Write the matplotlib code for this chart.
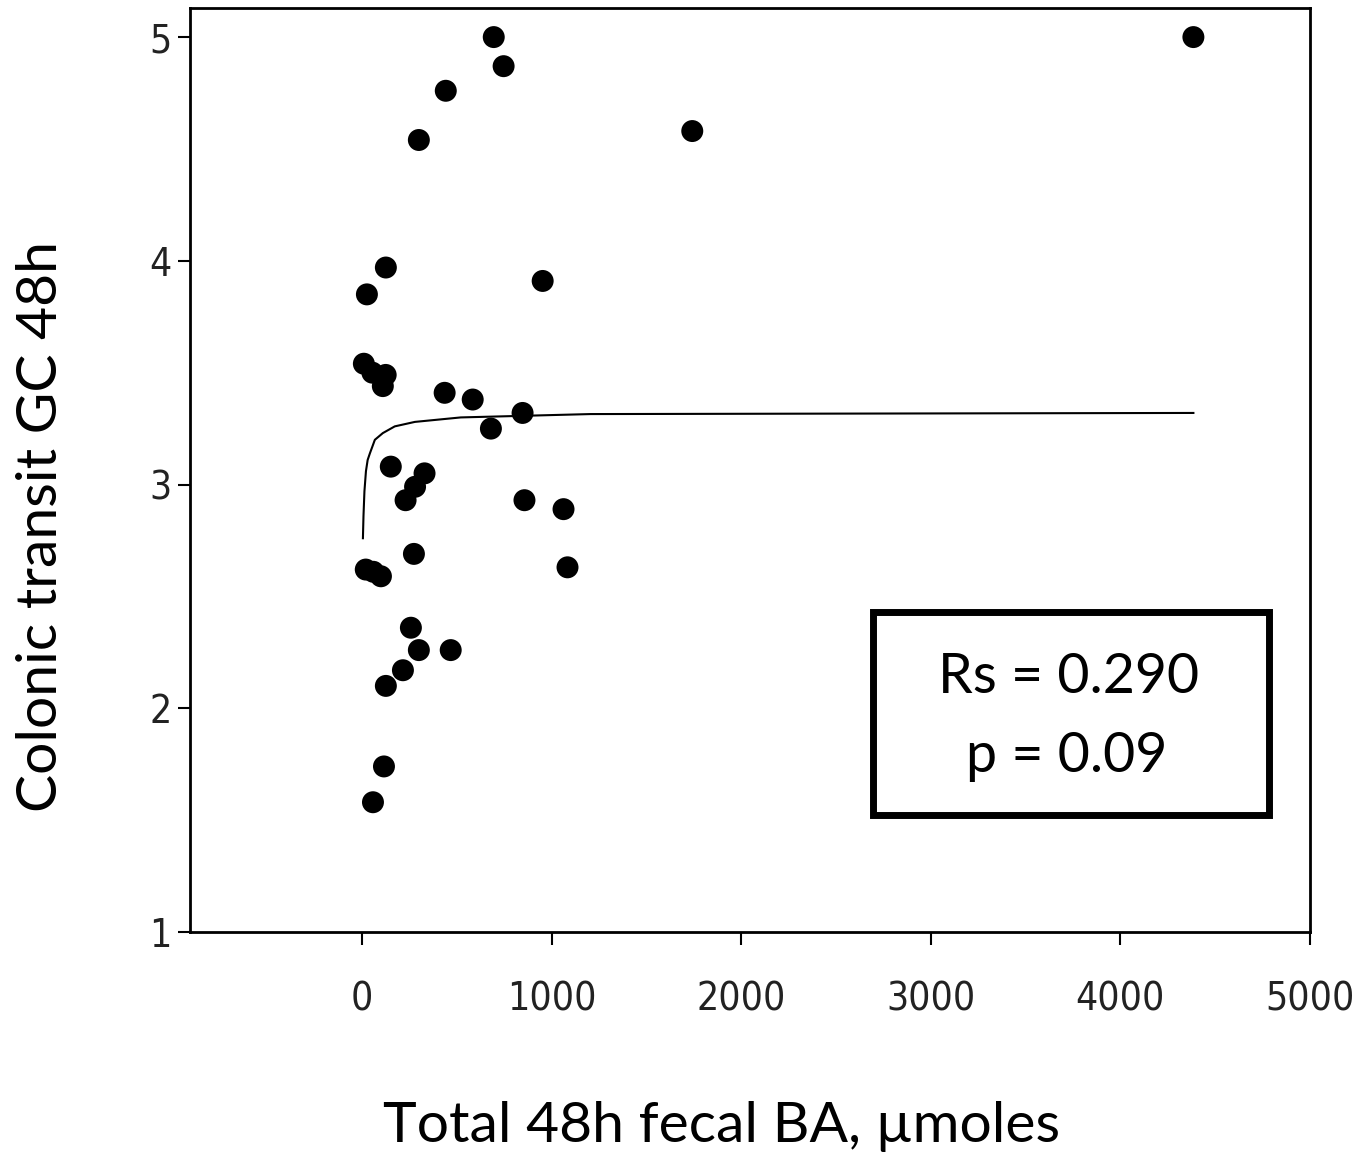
import numpy as np
import matplotlib
matplotlib.use("Agg")
from matplotlib import pyplot as plt
from matplotlib import font_manager
from matplotlib.patches import Rectangle

# total 48h fecal bile acids (umoles) vs colonic transit GC 48h
ba_umol = [695, 747, 442, 300, 1742, 4385,
           126, 26, 953,
           10, 55, 125, 110,
           436, 584, 847, 680,
           152, 330, 280, 230,
           857, 1063, 1084, 274,
           20, 60, 100,
           258, 300, 468, 216, 126,
           116, 58]
gc_48h = [5.00, 4.87, 4.76, 4.54, 4.58, 5.00,
          3.97, 3.85, 3.91,
          3.54, 3.50, 3.49, 3.44,
          3.41, 3.38, 3.32, 3.25,
          3.08, 3.05, 2.99, 2.93,
          2.93, 2.89, 2.63, 2.69,
          2.62, 2.61, 2.59,
          2.36, 2.26, 2.26, 2.17, 2.10,
          1.74, 1.58]

# fitted curve
fit_x = [5, 8, 13, 21, 30, 42, 68, 110, 173, 279, 521, 1205, 4385]
fit_y = [2.76, 2.86, 2.97, 3.06, 3.11, 3.14, 3.20, 3.23, 3.26, 3.28, 3.30, 3.315, 3.32]

x_ticks = [0, 1000, 2000, 3000, 4000, 5000]
y_ticks = [1, 2, 3, 4, 5]
rs_text = "Rs = 0.290"
p_text = "p = 0.09"

# narrow font for tick labels if any is around
names = {f.name for f in font_manager.fontManager.ttflist}
narrow = [n for n in ["Liberation Sans Narrow", "DejaVu Sans Condensed"] if n in names]
tick_font = narrow + ["DejaVu Sans"]
label_font = ["Lato", "DejaVu Sans"]

W, H = 1363, 1157
fig = plt.figure(figsize=(W/100, H/100), dpi=100)
ax = fig.add_axes([190/W, 1 - 932/H, (1310-190)/W, (932-8)/H])

ax.scatter(ba_umol, gc_48h, s=250, c="black", marker="o", edgecolors="none", zorder=3)
ax.plot(fit_x, fit_y, color="black", lw=1.5, zorder=2)

ax.set_xlim(-907, 5000)
ax.set_ylim(1, 5.13)
ax.set_xticks(x_ticks)
ax.set_yticks(y_ticks)
for sp in ax.spines.values():
    sp.set_linewidth(2)
ax.tick_params(direction="out", length=9, width=1.5)
ax.tick_params(axis="y", pad=4)
ax.tick_params(axis="x", pad=26)
for lab in ax.get_xticklabels() + ax.get_yticklabels():
    lab.set_family(tick_font)
    lab.set_stretch("condensed")
    lab.set_fontsize(28)
    lab.set_color("#222222")

fig.text(722/W, 1 - 1127/H, "Total 48h fecal BA, µmoles", family=label_font,
         fontsize=41, ha="center", va="center")
fig.text(42/W, 1 - 527/H, "Colonic transit GC 48h", family=label_font,
         fontsize=41, ha="center", va="center", rotation=90)

box = Rectangle((873/W, 1 - 815/H), (1269-873)/W, (815-612)/H,
                transform=fig.transFigure, fill=False, lw=5, ec="black")
fig.add_artist(box)
fig.text(1069/W, 1 - 693/H, rs_text, family=label_font, fontsize=40,
         ha="center", va="baseline")
fig.text(1067/W, 1 - 772/H, p_text, family=label_font, fontsize=40,
         ha="center", va="baseline")

plt.savefig("out.png", dpi=100)
